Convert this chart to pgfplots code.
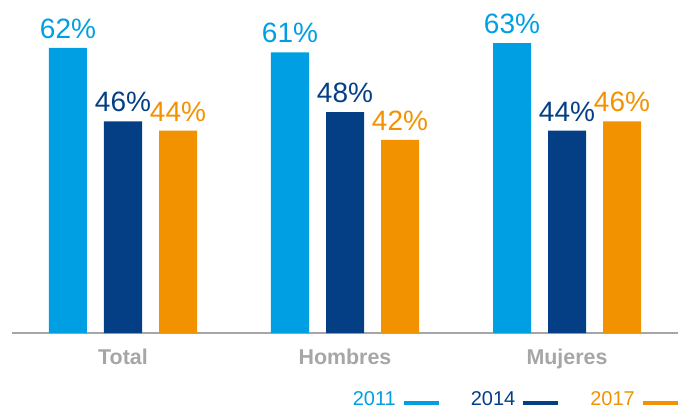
\documentclass[border=0pt]{standalone}
\usepackage{pgfplots}
\pgfplotsset{compat=1.18}
\usepackage{fontspec}
\setmainfont{Liberation Sans}
\definecolor{c11}{HTML}{009FE3}
\definecolor{c14}{HTML}{043F85}
\definecolor{c17}{HTML}{F39200}
\definecolor{axgray}{HTML}{A6A6A6}
\begin{document}
\begin{tikzpicture}
\begin{axis}[
    at={(12pt,75pt)}, anchor=south west,
    scale only axis, width=666pt, height=333pt,
    xmin=-0.5, xmax=2.5, ymin=0, ymax=72.4,
    ybar=17pt, bar width=38pt,
    axis x line=bottom, axis y line=none,
    x axis line style={-, draw=axgray, line width=2pt},
    xtick={0,1,2}, xticklabels={Total,Hombres,Mujeres},
    major tick length=0pt,
    x tick label style={font=\fontsize{21.4}{25}\selectfont\bfseries, text=axgray, anchor=north, inner sep=0pt, yshift=-16pt},
    /pgf/number format/assume math mode=true,
    nodes near coords={\pgfmathprintnumber{\pgfplotspointmeta}\%},
    every node near coord/.append style={font=\fontsize{28}{31}\selectfont, inner sep=0pt, anchor=south, yshift=9pt},
    legend columns=-1,
    legend plot pos=right,
    legend style={at={(axis description cs:1,0)}, anchor=north east, yshift=-58pt, xshift=2pt,
      draw=none, fill=none, inner sep=0pt, font=\fontsize{20}{22}\selectfont,
      nodes={inner sep=0pt},
      /tikz/every odd column/.append style={column sep=6pt},
      /tikz/every even column/.append style={column sep=30pt}},
]
\addplot[fill=c11, draw=none, every node near coord/.append style={text=c11},
  legend image code/.code={\draw[draw=c11, line width=4pt] (0pt,-4pt) -- (35pt,-4pt);}]
  coordinates {(0,62) (1,61) (2,63)};
\addlegendentry{\textcolor{c11}{2011}}
\addplot[fill=c14, draw=none, every node near coord/.append style={text=c14},
  legend image code/.code={\draw[draw=c14, line width=4pt] (0pt,-4pt) -- (35pt,-4pt);}]
  coordinates {(0,46) (1,48) (2,44)};
\addlegendentry{\textcolor{c14}{2014}}
\addplot[fill=c17, draw=none, every node near coord/.append style={text=c17},
  legend image code/.code={\draw[draw=c17, line width=4pt] (0pt,-4pt) -- (35pt,-4pt);}]
  coordinates {(0,44) (1,42) (2,46)};
\addlegendentry{\textcolor{c17}{2017}}
\end{axis}
\pgfresetboundingbox
\useasboundingbox (0,0) rectangle (678pt,408pt);
\end{tikzpicture}
\end{document}
